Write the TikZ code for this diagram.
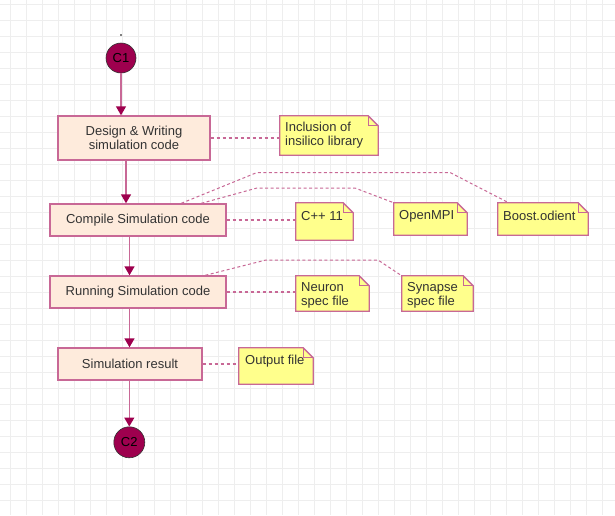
\documentclass[tikz,border=0pt]{standalone}
\usepackage{fontspec}
\setmainfont{Liberation Sans}
\usetikzlibrary{arrows.meta,calc}

\definecolor{gridclr}{RGB}{238,238,238}
\definecolor{lineclr}{RGB}{200,104,150}
\definecolor{tipclr}{RGB}{158,0,78}
\definecolor{actfill}{RGB}{254,235,220}
\definecolor{notefill}{RGB}{255,255,140}
\definecolor{txtclr}{RGB}{51,51,51}

\tikzset{
  x=1pt, y=-1pt,
  gridline/.style={draw=gridclr, line width=1pt},
  act/.style={rectangle, draw=lineclr, fill=actfill, line width=1.4pt,
    inner sep=0pt, align=center, text=txtclr,
    font=\fontsize{13}{14}\selectfont},
  endpoint/.style={circle, draw=black!80, line width=0.6pt, fill=tipclr,
    inner sep=0pt, minimum size=30pt, text=black,
    font=\fontsize{13}{14}\selectfont},
  noteframe/.style={rectangle, draw=none, inner sep=0pt},
  notebody/.style={draw=lineclr, fill=notefill, line width=1.3pt, line join=miter},
  notetext/.style={inner sep=0pt, anchor=west, align=left, text=txtclr,
    font=\fontsize{13}{14}\selectfont},
  flow/.style={draw=lineclr, line width=1.4pt,
    -{Triangle[width=10pt,length=9pt,color=tipclr]}},
  lead/.style={draw=lineclr, line width=1.3pt, dash pattern=on 3pt off 3pt},
  leadthin/.style={draw=lineclr, line width=1pt, dash pattern=on 3pt off 2.5pt},
}

% dog-eared outline of a note node
\newcommand{\foldnote}[1]{%
  \filldraw[notebody] (#1.north west) -- ([xshift=-10pt]#1.north east)
    -- ([yshift=-10pt]#1.north east) -- (#1.south east) -- (#1.south west) -- cycle;
  \draw[notebody, fill=none] ([xshift=-10pt]#1.north east)
    -- ([xshift=-10pt,yshift=-10pt]#1.north east) -- ([yshift=-10pt]#1.north east);
}

\begin{document}
\begin{tikzpicture}
\useasboundingbox (0,0) rectangle (615,515);
\fill[white] (0,0) rectangle (615,515);

% background grid
\foreach \i in {0,...,37} \draw[gridline] ({10.5+16*\i},0) -- ({10.5+16*\i},515);
\foreach \j in {0,...,32} \draw[gridline] (0,{4+16*\j}) -- (615,{4+16*\j});

% start / end connectors
\fill[black] (121,35) circle (0.8pt);
\node[endpoint] (c1) at (121,58) {C1};
\node[endpoint, minimum size=31pt] (c2) at (129.3,442.3) {C2};

% activities
\node[act, minimum width=152pt, minimum height=44pt] (design) at (134,138)
  {Design \& Writing\\simulation code};
\node[act, minimum width=176pt, minimum height=32pt] (compile) at (138,220)
  {Compile Simulation code};
\node[act, minimum width=176pt, minimum height=32pt] (running) at (138,292)
  {Running Simulation code};
\node[act, minimum width=144pt, minimum height=32pt] (result) at (130,364)
  {Simulation result};

% note frames
\node[noteframe, minimum width=98pt, minimum height=39pt] (incl) at (329,135.5) {};
\node[noteframe, minimum width=57pt, minimum height=37pt] (cpp) at (324.5,221.5) {};
\node[noteframe, minimum width=73pt, minimum height=32pt] (mpi) at (430.5,219) {};
\node[noteframe, minimum width=90pt, minimum height=32pt] (boost) at (543,219) {};
\node[noteframe, minimum width=73pt, minimum height=35pt] (neuron) at (332.5,293.5) {};
\node[noteframe, minimum width=71pt, minimum height=35pt] (synapse) at (437.5,293.5) {};
\node[noteframe, minimum width=74pt, minimum height=36pt] (output) at (276,366) {};

% flow arrows
\coordinate (ax1) at (126,0);
\coordinate (ax2) at (129.5,0);
\draw[flow] (c1) -- (c1 |- design.north);
\draw[flow] (design.south -| ax1) -- (compile.north -| ax1);
\draw[flow] (compile.south -| ax2) -- (running.north -| ax2);
\draw[flow] (running.south -| ax2) -- (result.north -| ax2);
\draw[flow] (result.south -| c2) -- (c2);

% note links
\draw[lead] (design.east) -- (design.east -| incl.west);
\draw[lead] (compile.east) -- (compile.east -| cpp.west);
\draw[lead] (running.east) -- (running.east -| neuron.west);
\draw[lead] (result.east) -- (result.east -| output.west);
\draw[leadthin] ($(compile.north west)+(132,0)$) -- (257,172.5) -- (450,172.5)
  -- ($(boost.north west)+(11,0)$);
\draw[leadthin] ($(compile.north west)+(152,0)$) -- (257,188) -- (355,188)
  -- (mpi.north west);
\draw[leadthin] ($(running.north west)+(156,0)$) -- (266,260) -- (378,260)
  -- (synapse.north west);

% notes
\foldnote{incl}
\foldnote{cpp}
\foldnote{mpi}
\foldnote{boost}
\foldnote{neuron}
\foldnote{synapse}
\foldnote{output}

\node[notetext] (incl-t) at (285,135.5) {Inclusion of\\insilico library};
\node[notetext] (cpp-t) at (301,216) {C++ 11};
\node[notetext] (mpi-t) at (399,216) {OpenMPI};
\node[notetext] (boost-t) at (503,216) {Boost.odient};
\node[notetext] (neuron-t) at (301,295) {Neuron\\spec file};
\node[notetext] (synapse-t) at (407,295) {Synapse\\spec file};
\node[notetext] (output-t) at (245,361) {Output file};
\end{tikzpicture}
\end{document}
